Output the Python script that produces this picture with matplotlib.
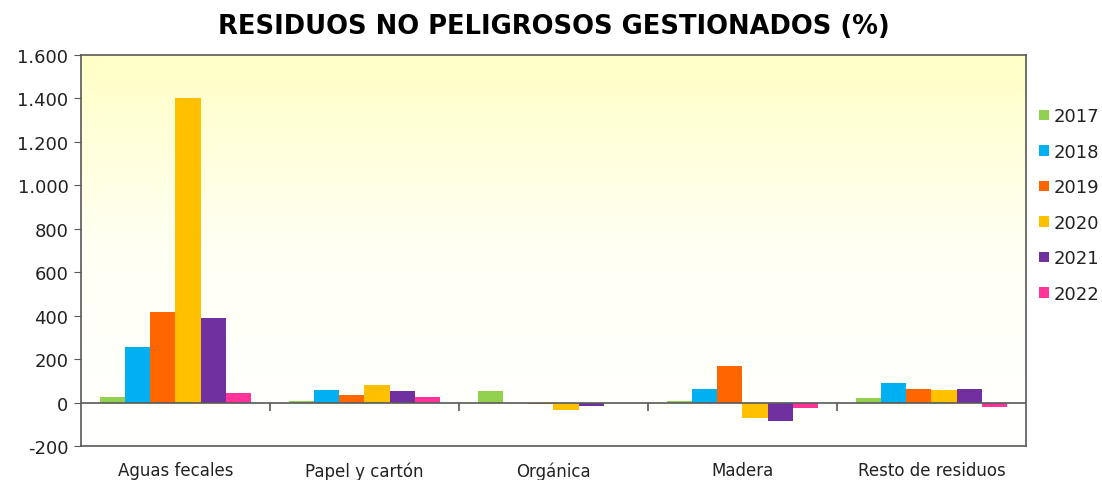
import numpy as np
import matplotlib
matplotlib.use('Agg')
import matplotlib.pyplot as plt
from matplotlib.ticker import FuncFormatter
from matplotlib.colors import LinearSegmentedColormap

# values (%)
categories = ['Aguas fecales', 'Papel y cartón', 'Orgánica', 'Madera', 'Resto de residuos']
years = ['2017', '2018', '2019', '2020', '2021', '2022']
v2017 = [26, 6, 52, 6, 20]
v2018 = [254, 57, 0, 62, 88]
v2019 = [415, 37, -8, 169, 62]
v2020 = [1400, 81, -34, -71, 57]
v2021 = [390, 52, -18, -86, 62]
v2022 = [46, 26, 0, -25, -20]
series = [v2017, v2018, v2019, v2020, v2021, v2022]
colors = ['#92D050', '#00B0F0', '#FF6600', '#FFC000', '#7030A0', '#FF3399']

plt.rcParams['font.family'] = ['DejaVu Sans']
fig = plt.figure(figsize=(11.02, 4.81), dpi=100)
ax = fig.add_axes([0.0735, 0.0707, 0.8575, 0.8129])

x = np.arange(len(categories))
bar_w = 0.133
for i, (vals, col, yr) in enumerate(zip(series, colors, years)):
    ax.bar(x + (i - 2.5) * bar_w, vals, bar_w, color=col, label=yr, zorder=3)

ax.set_xlim(-0.5, len(categories) - 0.5)
ax.set_ylim(-200, 1600)
ax.set_yticks(np.arange(-200, 1601, 200))
ax.yaxis.set_major_formatter(FuncFormatter(lambda v, p: f'{v:,.0f}'.replace(',', '.')))

# gradient background
grad = np.linspace(0, 1, 256).reshape(-1, 1)
cmap = LinearSegmentedColormap.from_list('bg', ['#FFFFFF', '#FFFFF4', '#FFFFC6'])
ax.imshow(grad, cmap=cmap, aspect='auto', extent=[0, 1, 0, 1],
          transform=ax.transAxes, origin='lower', zorder=0)

edge = '#595959'
for s in ax.spines.values():
    s.set_color(edge)
    s.set_linewidth(1.2)

ax.axhline(0, color=edge, linewidth=1.2, zorder=4)
ax.set_xticks(x)
ax.set_xticklabels(categories, color='#222222')
ax.tick_params(axis='x', length=0, pad=11, labelsize=12)
ax.tick_params(axis='y', direction='out', length=5, color=edge, labelsize=13,
               labelcolor='#222222', pad=4)

# category separators on the zero line
sec = ax.secondary_xaxis(200 / 1800)
sec.set_xticks(x[:-1] + 0.5)
sec.set_xticklabels([])
sec.tick_params(direction='out', length=6, color=edge, width=1.2)
sec.spines['bottom'].set_visible(False)

ax.set_title('RESIDUOS NO PELIGROSOS GESTIONADOS (%)', fontsize=18.5,
             fontweight='bold', pad=16)

leg = ax.legend(loc='center left', bbox_to_anchor=(1.0, 0.616), frameon=False,
                fontsize=13, handlelength=0.55, handleheight=0.55,
                handletextpad=0.3, labelspacing=0.97, borderaxespad=0.3)
for t in leg.get_texts():
    t.set_color('#222222')

fig.savefig('out.png', dpi=100)
